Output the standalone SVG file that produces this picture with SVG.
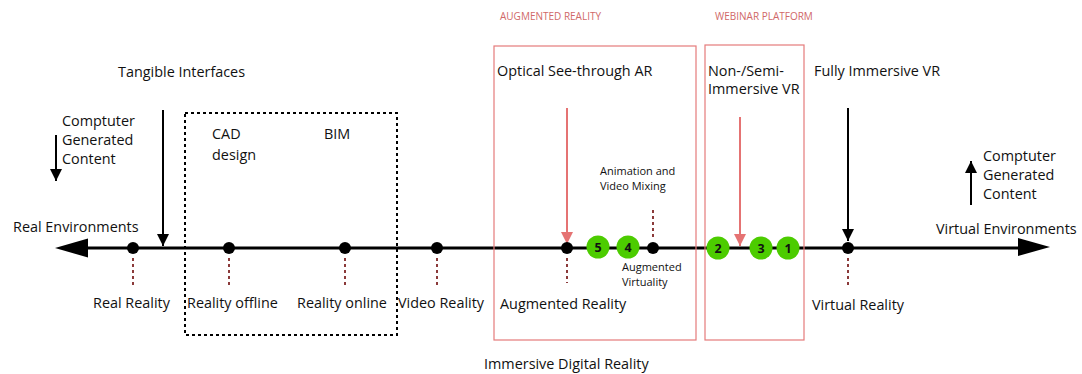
<svg xmlns="http://www.w3.org/2000/svg" width="1082" height="374" viewBox="0 0 1082 374">
<style>
text{font-family:"Open Sans","Liberation Sans",sans-serif;fill:#111}
.t{font-size:14.4px}
.s{font-size:11px}
.h{font-size:10px;fill:#d06868}
.n{font-size:12.5px;font-weight:bold;text-anchor:middle;fill:#111}
.tick{stroke:#8b3a3a;stroke-width:2;stroke-dasharray:3,3}
.dot{fill:#000}
.g{fill:#4ccc00}
.rbox{fill:none;stroke:#e57b7b;stroke-width:1.2}
</style>
<defs>
<marker id="ab" markerWidth="12" markerHeight="22" refX="12" refY="6" orient="auto" markerUnits="userSpaceOnUse" viewBox="0 0 12 12"><path d="M0,0L12,6L0,12z" fill="#000"/></marker>
<marker id="ar" markerWidth="12" markerHeight="22" refX="12" refY="6" orient="auto" markerUnits="userSpaceOnUse" viewBox="0 0 12 12"><path d="M0,0L12,6L0,12z" fill="#e57373"/></marker>
</defs>
<g id="connectors">
<line x1="88" y1="248" x2="1018" y2="248" stroke="#000" stroke-width="3"/>
<path d="M55,248L88,238.5L88,257.5z" fill="#000"/>
<path d="M1050,247L1018,238L1018,256z" fill="#000"/>
<line x1="163" y1="110" x2="163" y2="246" stroke="#000" stroke-width="2" marker-end="url(#ab)"/>
<line x1="848" y1="108" x2="848" y2="241" stroke="#000" stroke-width="2" marker-end="url(#ab)"/>
<line x1="567" y1="108" x2="567" y2="244" stroke="#e57373" stroke-width="2" marker-end="url(#ar)"/>
<line x1="740" y1="117" x2="740" y2="246" stroke="#e57373" stroke-width="2" marker-end="url(#ar)"/>
<line x1="56" y1="135" x2="56" y2="181" stroke="#000" stroke-width="2" marker-end="url(#ab)"/>
<line x1="971" y1="205" x2="971" y2="161" stroke="#000" stroke-width="2" marker-end="url(#ab)"/>
</g>
<g id="dotted-box"><rect x="185" y="113" width="212" height="222" fill="none" stroke="#000" stroke-width="2" stroke-dasharray="3,3"/></g>
<g id="ar-box"><rect class="rbox" x="494" y="46" width="202" height="294"/><text class="h" x="500" y="20">AUGMENTED REALITY</text></g>
<g id="webinar-box"><rect class="rbox" x="705" y="45" width="99" height="295"/><text class="h" x="715" y="20">WEBINAR PLATFORM</text></g>
<g id="real-environments"><text class="t" x="13" y="232">Real Environments</text></g>
<g id="virtual-environments"><text class="t" x="936" y="234">Virtual Environments</text></g>
<g id="cgc-left"><text class="t" x="62" y="126">Comptuter</text><text class="t" x="62" y="145">Generated</text><text class="t" x="62" y="164">Content</text></g>
<g id="cgc-right"><text class="t" x="983" y="161">Comptuter</text><text class="t" x="983" y="180">Generated</text><text class="t" x="983" y="199">Content</text></g>
<g id="tangible"><text class="t" x="118" y="77">Tangible Interfaces</text></g>
<g id="cad"><text class="t" x="212" y="139">CAD</text><text class="t" x="212" y="160">design</text></g>
<g id="bim"><text class="t" x="324" y="139">BIM</text></g>
<g id="real-reality"><circle class="dot" cx="133" cy="248" r="6"/><line class="tick" x1="133" y1="258" x2="133" y2="288"/><text class="t" x="93" y="308">Real Reality</text></g>
<g id="reality-offline"><circle class="dot" cx="229" cy="248" r="6"/><line class="tick" x1="229" y1="258" x2="229" y2="288"/><text class="t" x="187" y="308">Reality offline</text></g>
<g id="reality-online"><circle class="dot" cx="345" cy="248" r="6"/><line class="tick" x1="345" y1="258" x2="345" y2="288"/><text class="t" x="297" y="308">Reality online</text></g>
<g id="video-reality"><circle class="dot" cx="437" cy="248" r="6"/><line class="tick" x1="437" y1="258" x2="437" y2="288"/><text class="t" x="398" y="308">Video Reality</text></g>
<g id="augmented-reality"><circle class="dot" cx="567" cy="248" r="6"/><line class="tick" x1="567" y1="258" x2="567" y2="283"/><text class="t" x="500" y="309">Augmented Reality</text></g>
<g id="augmented-virtuality"><circle class="dot" cx="653" cy="248" r="6"/><line class="tick" x1="653" y1="210" x2="653" y2="240"/><text class="s" x="600" y="175">Animation and</text><text class="s" x="600" y="190">Video Mixing</text><text class="s" x="622" y="271">Augmented</text><text class="s" x="622" y="286">Virtuality</text></g>
<g id="virtual-reality"><circle class="dot" cx="848" cy="248" r="6"/><line class="tick" x1="848" y1="258" x2="848" y2="288"/><text class="t" x="812" y="310">Virtual Reality</text></g>
<g id="optical"><text class="t" x="497" y="76">Optical See-through AR</text></g>
<g id="non-semi"><text class="t" x="708" y="76">Non-/Semi-</text><text class="t" x="708" y="94">Immersive VR</text></g>
<g id="fully"><text class="t" x="814" y="76">Fully Immersive VR</text></g>
<g id="n5"><circle class="g" cx="598" cy="247" r="11.5"/><text class="n" x="598" y="251.5">5</text></g>
<g id="n4"><circle class="g" cx="628" cy="247" r="11.5"/><text class="n" x="628" y="251.5">4</text></g>
<g id="n2"><circle class="g" cx="718" cy="248" r="11.5"/><text class="n" x="718" y="252.5">2</text></g>
<g id="n3"><circle class="g" cx="761" cy="248" r="11.5"/><text class="n" x="761" y="252.5">3</text></g>
<g id="n1"><circle class="g" cx="788" cy="248" r="11.5"/><text class="n" x="788" y="252.5">1</text></g>
<g id="immersive"><text class="t" x="484" y="369">Immersive Digital Reality</text></g>
</svg>
